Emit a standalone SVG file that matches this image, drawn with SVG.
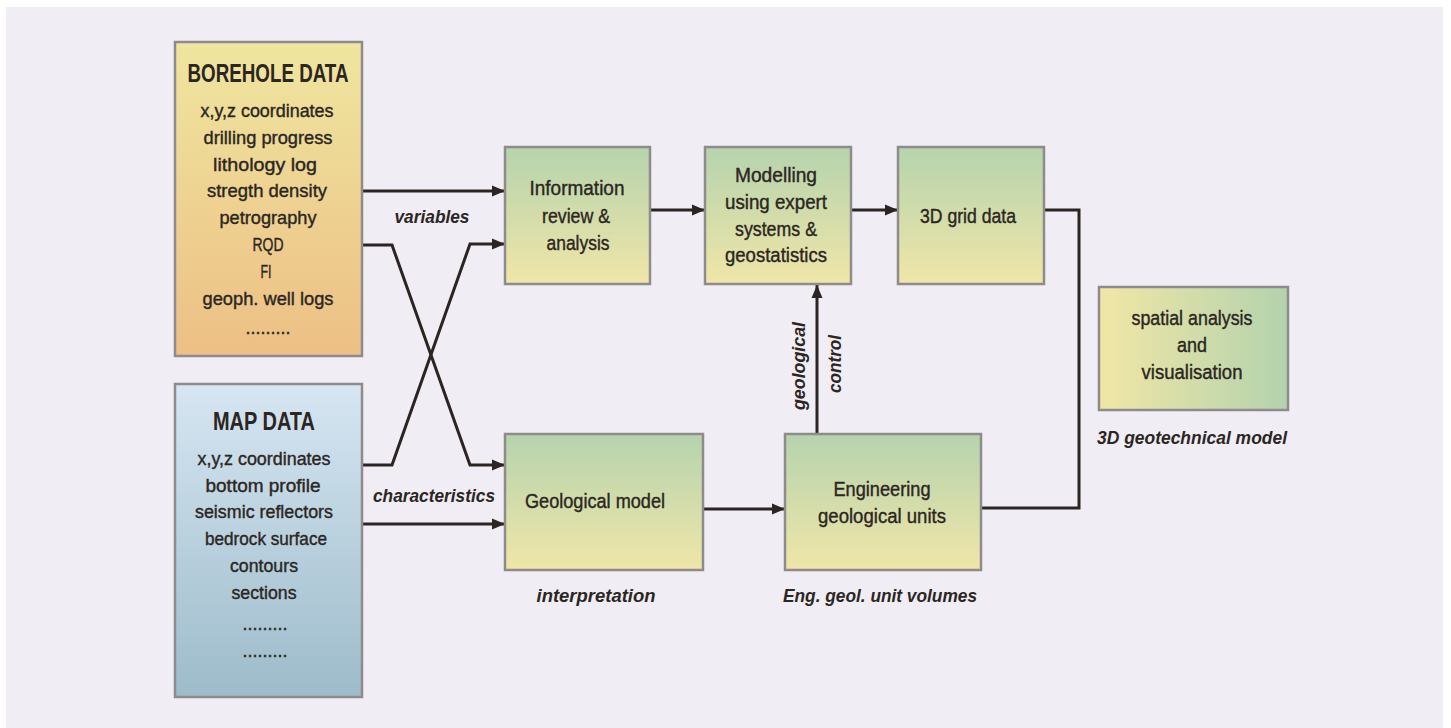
<svg xmlns="http://www.w3.org/2000/svg" width="1451" height="728" viewBox="0 0 1451 728">
<defs>
<linearGradient id="gBore" x1="0" y1="0" x2="0" y2="1"><stop offset="0" stop-color="#efe6a0"/><stop offset="1" stop-color="#edbf85"/></linearGradient>
<linearGradient id="gMap" x1="0" y1="0" x2="0" y2="1"><stop offset="0" stop-color="#d6e6f2"/><stop offset="1" stop-color="#9dbbca"/></linearGradient>
<linearGradient id="gProc" x1="0" y1="0" x2="0" y2="1"><stop offset="0" stop-color="#b5d3ad"/><stop offset="1" stop-color="#f0e6a8"/></linearGradient>
<linearGradient id="gSpat" x1="0" y1="0" x2="1" y2="0"><stop offset="0" stop-color="#f1e7a6"/><stop offset="1" stop-color="#b3d2ad"/></linearGradient>
<marker id="arr" markerUnits="userSpaceOnUse" markerWidth="14" markerHeight="12" refX="13" refY="6" orient="auto"><path d="M0,0.5 L13,6 L0,11.5 z" fill="#2b2420"/></marker>
<style>
.box{stroke:#8e8b8c;stroke-width:2.5}
.t{font-family:"Liberation Sans",Arial,sans-serif;fill:#2b2622;text-anchor:middle}
.b17{font-size:19px;stroke:#2b2622;stroke-width:0.4}
.b18{font-size:20.5px;stroke:#2b2622;stroke-width:0.4}
.h{font-size:25px;font-weight:bold}
.cap{font-size:19px;font-style:italic;font-weight:bold}
.ln{fill:none;stroke:#2b2420;stroke-width:3}
</style>
</defs>
<rect x="0" y="0" width="1451" height="728" fill="#ffffff"/>
<rect x="6" y="7" width="1437" height="721" fill="#f0edf5"/>

<g id="connectors">
<path class="ln" d="M362,191 H505" marker-end="url(#arr)"/>
<path class="ln" d="M362,245 H392 L470,465 H505" marker-end="url(#arr)"/>
<path class="ln" d="M362,465 H392 L470,244 H505" marker-end="url(#arr)"/>
<path class="ln" d="M362,524 H505" marker-end="url(#arr)"/>
<path class="ln" d="M650,210 H705" marker-end="url(#arr)"/>
<path class="ln" d="M851,210 H898" marker-end="url(#arr)"/>
<path class="ln" d="M703,509 H785" marker-end="url(#arr)"/>
<path class="ln" d="M817,434 V285" marker-end="url(#arr)"/>
<path class="ln" d="M1044,210 H1079 V508 H982"/>
<text class="t cap" x="432" y="223" textLength="75" lengthAdjust="spacingAndGlyphs">variables</text>
<text class="t cap" x="434" y="502" textLength="122" lengthAdjust="spacingAndGlyphs">characteristics</text>
<text class="t cap" transform="translate(805,366) rotate(-90)" x="0" y="0" textLength="88" lengthAdjust="spacingAndGlyphs">geological</text>
<text class="t cap" transform="translate(841,364) rotate(-90)" x="0" y="0" textLength="58" lengthAdjust="spacingAndGlyphs">control</text>
</g>

<g id="borehole">
<rect class="box" x="175" y="42" width="187" height="314" fill="url(#gBore)"/>
<text class="t h" x="268" y="82" textLength="161" lengthAdjust="spacingAndGlyphs">BOREHOLE DATA</text>
<text class="t b17" x="267" y="117" textLength="133" lengthAdjust="spacingAndGlyphs">x,y,z coordinates</text>
<text class="t b17" x="268" y="143.8" textLength="129" lengthAdjust="spacingAndGlyphs">drilling progress</text>
<text class="t b17" x="265" y="170.6" textLength="104" lengthAdjust="spacingAndGlyphs">lithology log</text>
<text class="t b17" x="267" y="197.4" textLength="120" lengthAdjust="spacingAndGlyphs">stregth density</text>
<text class="t b17" x="268" y="224.2" textLength="97" lengthAdjust="spacingAndGlyphs">petrography</text>
<text class="t b17" x="268" y="251" textLength="31" lengthAdjust="spacingAndGlyphs">RQD</text>
<text class="t b17" x="266" y="277.8" textLength="11" lengthAdjust="spacingAndGlyphs">FI</text>
<text class="t b17" x="268" y="304.6" textLength="131" lengthAdjust="spacingAndGlyphs">geoph. well logs</text>
<text class="t b17" x="268" y="334" textLength="45" lengthAdjust="spacingAndGlyphs">.........</text>
</g>

<g id="mapdata">
<rect class="box" x="175" y="384" width="187" height="313" fill="url(#gMap)"/>
<text class="t h" x="264" y="430" textLength="102" lengthAdjust="spacingAndGlyphs">MAP DATA</text>
<text class="t b17" x="264" y="465" textLength="133" lengthAdjust="spacingAndGlyphs">x,y,z coordinates</text>
<text class="t b17" x="263" y="491.7" textLength="115" lengthAdjust="spacingAndGlyphs">bottom profile</text>
<text class="t b17" x="264" y="518.4" textLength="138" lengthAdjust="spacingAndGlyphs">seismic reflectors</text>
<text class="t b17" x="266" y="545.1" textLength="122" lengthAdjust="spacingAndGlyphs">bedrock surface</text>
<text class="t b17" x="264" y="571.8" textLength="68" lengthAdjust="spacingAndGlyphs">contours</text>
<text class="t b17" x="264" y="598.5" textLength="65" lengthAdjust="spacingAndGlyphs">sections</text>
<text class="t b17" x="265" y="630" textLength="45" lengthAdjust="spacingAndGlyphs">.........</text>
<text class="t b17" x="265" y="657" textLength="45" lengthAdjust="spacingAndGlyphs">.........</text>
</g>

<g id="info">
<rect class="box" x="505" y="147" width="145" height="137" fill="url(#gProc)"/>
<text class="t b18" x="577" y="195" textLength="95" lengthAdjust="spacingAndGlyphs">Information</text>
<text class="t b18" x="576" y="223" textLength="68" lengthAdjust="spacingAndGlyphs">review &amp;</text>
<text class="t b18" x="578" y="250" textLength="63" lengthAdjust="spacingAndGlyphs">analysis</text>
</g>

<g id="modelling">
<rect class="box" x="705" y="147" width="146" height="137" fill="url(#gProc)"/>
<text class="t b18" x="776" y="182" textLength="82" lengthAdjust="spacingAndGlyphs">Modelling</text>
<text class="t b18" x="776" y="209" textLength="102" lengthAdjust="spacingAndGlyphs">using expert</text>
<text class="t b18" x="776" y="236" textLength="82" lengthAdjust="spacingAndGlyphs">systems &amp;</text>
<text class="t b18" x="776" y="262" textLength="102" lengthAdjust="spacingAndGlyphs">geostatistics</text>
</g>

<g id="grid3d">
<rect class="box" x="898" y="147" width="146" height="137" fill="url(#gProc)"/>
<text class="t b18" x="968" y="223" textLength="96" lengthAdjust="spacingAndGlyphs">3D grid data</text>
</g>

<g id="spatial">
<rect class="box" x="1099" y="287" width="189" height="123" fill="url(#gSpat)"/>
<text class="t b18" x="1192" y="325" textLength="121" lengthAdjust="spacingAndGlyphs">spatial analysis</text>
<text class="t b18" x="1192" y="352" textLength="30" lengthAdjust="spacingAndGlyphs">and</text>
<text class="t b18" x="1192" y="379" textLength="101" lengthAdjust="spacingAndGlyphs">visualisation</text>
<text class="t cap" x="1192" y="444" textLength="190" lengthAdjust="spacingAndGlyphs">3D geotechnical model</text>
</g>

<g id="geological">
<rect class="box" x="505" y="434" width="198" height="136" fill="url(#gProc)"/>
<text class="t b18" x="595" y="508" textLength="140" lengthAdjust="spacingAndGlyphs">Geological model</text>
<text class="t cap" x="596" y="602" textLength="119" lengthAdjust="spacingAndGlyphs">interpretation</text>
</g>

<g id="engineering">
<rect class="box" x="785" y="434" width="196" height="136" fill="url(#gProc)"/>
<text class="t b18" x="882" y="496" textLength="97" lengthAdjust="spacingAndGlyphs">Engineering</text>
<text class="t b18" x="882" y="523" textLength="128" lengthAdjust="spacingAndGlyphs">geological units</text>
<text class="t cap" x="880" y="602" textLength="194" lengthAdjust="spacingAndGlyphs">Eng. geol. unit volumes</text>
</g>
</svg>
